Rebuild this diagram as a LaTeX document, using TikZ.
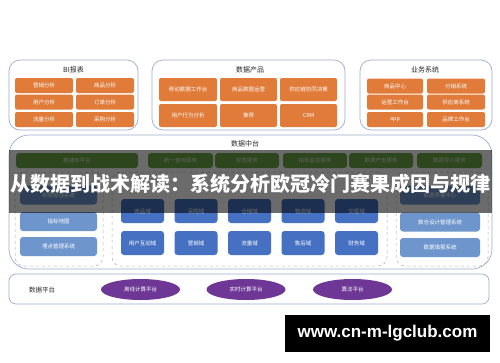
\documentclass[tikz,border=0pt]{standalone}
\usepackage{fontspec}
\setmainfont{Noto Sans CJK SC}
\newfontfamily\urlfont{Liberation Sans}
\usetikzlibrary{shapes.geometric,positioning}
\definecolor{panelline}{HTML}{9AAED0}
\definecolor{orangebox}{HTML}{E07B39}
\definecolor{greenbox}{HTML}{70A848}
\definecolor{domainbox}{HTML}{4671C2}
\definecolor{lightbox}{HTML}{6E96CD}
\definecolor{platpurple}{HTML}{6E3796}
\begin{document}
\begin{tikzpicture}[
    x=1pt, y=-1pt,
    font=\fontsize{5.5}{6.5}\selectfont,
    panel/.style={draw=panelline, line width=0.7pt, fill=white, rounded corners=11pt, inner sep=0pt},
    dashpanel/.style={draw=gray!60, dashed, line width=0.5pt, rounded corners=9pt, inner sep=0pt},
    ptitle/.style={font=\fontsize{7}{8}\selectfont, text=black!85},
    obox/.style={fill=orangebox, text=white, rounded corners=2pt, inner sep=0pt, minimum width=58pt, minimum height=15pt},
    gbox/.style={fill=greenbox, text=white!80!greenbox, rounded corners=3pt, inner sep=0pt, minimum width=64pt, minimum height=15pt},
    dbox/.style={fill=domainbox, text=white, rounded corners=3pt, inner sep=0pt, minimum width=43pt, minimum height=24pt},
    lbox/.style={fill=lightbox, text=white, rounded corners=3pt, inner sep=0pt, minimum width=77pt, minimum height=19pt},
    pill/.style={ellipse, fill=platpurple, text=white, inner sep=0pt, minimum width=79pt, minimum height=21pt}
]
\useasboundingbox[fill=white] (0,0) rectangle (500,362);

% BI报表
\node[panel, minimum width=129pt, minimum height=70pt] (bi) at (73.5,95) {};
\node[ptitle] (bitit) at (73.5,70) {BI报表};
\node[obox] (yx) at (44,85.5) {营销分析};
\node[obox] (sp) at (105,85.5) {商品分析};
\node[obox] (yh) at (44,102) {用户分析};
\node[obox] (dd) at (105,102) {订单分析};
\node[obox] (ll) at (44,119.5) {流量分析};
\node[obox] (cg) at (105,119.5) {采购分析};

% 数据产品
\node[panel, minimum width=193pt, minimum height=70pt] (prod) at (248.5,95) {};
\node[ptitle] (prodtit) at (250,70) {数据产品};
\node[obox, minimum height=23pt] (ydgz) at (188,89.5) {移动数据工作台};
\node[obox, minimum height=23pt, minimum width=57pt] (spyy) at (248.5,89.5) {商品数据运营};
\node[obox, minimum height=23pt, minimum width=57pt] (gyl) at (308.5,89.5) {供应链协同决策};
\node[obox, minimum height=23pt] (yhxw) at (188,115.5) {用户行为分析};
\node[obox, minimum height=23pt, minimum width=57pt] (tj) at (248.5,115.5) {推荐};
\node[obox, minimum height=23pt, minimum width=57pt] (crm) at (308.5,115.5) {CRM};

% 业务系统
\node[panel, minimum width=132pt, minimum height=70pt] (biz) at (426,95) {};
\node[ptitle] (biztit) at (425,70) {业务系统};
\node[obox, minimum width=56pt] (spzx) at (395,86) {商品中心};
\node[obox] (fx) at (456,86) {分销系统};
\node[obox, minimum width=56pt] (yygz) at (395,102) {运营工作台};
\node[obox] (gys) at (456,102) {供应商系统};
\node[obox, minimum width=56pt] (app) at (395,119.5) {app};
\node[obox] (pp) at (456,119.5) {品牌工作台};

% 数据中台
\node[panel, rounded corners=20pt, minimum width=483pt, minimum height=134pt] (mid) at (250.5,202) {};
\node[ptitle] (midtit) at (245,144) {数据中台};
\node[gbox, minimum width=122pt] (bipt) at (77,160.5) {敏捷BI平台};
\node[gbox, minimum width=65pt] (cx) at (180.5,160.5) {统一查询服务};
\node[gbox] (bq) at (247,160.5) {标签服务};
\node[gbox] (zb) at (315,160.5) {指标监控服务};
\node[gbox] (cc) at (381,160.5) {数据产出服务};
\node[gbox, minimum width=65pt] (dr) at (449.5,160.5) {数据导入服务};

\node[dashpanel, minimum width=88pt, minimum height=94pt] (leftp) at (59,219) {};
\node[lbox] (qx) at (58.5,195) {权限管理系统};
\node[lbox] (zbdt) at (58.5,221.5) {指标地图};
\node[lbox] (md) at (58.5,246.5) {埋点管理系统};

\node[dashpanel, minimum width=275pt, minimum height=94pt] (domp) at (249.5,219) {};
\node[dbox] (spy) at (142.5,211) {商品域};
\node[dbox] (cgy) at (196,211) {采购域};
\node[dbox] (ccy) at (249.5,211) {仓储域};
\node[dbox] (wly) at (303,211) {物流域};
\node[dbox] (jyy) at (356.5,211) {交易域};
\node[dbox] (hdy) at (142.5,243) {用户互动域};
\node[dbox] (yxy) at (196,243) {营销域};
\node[dbox] (lly) at (249.5,243) {流量域};
\node[dbox] (shy) at (303,243) {售后域};
\node[dbox] (cwy) at (356.5,243) {财务域};

\node[dashpanel, minimum width=92pt, minimum height=94pt] (rightp) at (442,219) {};
\node[lbox, minimum width=80pt] (zl) at (440,195) {数据质量中心};
\node[lbox, minimum width=80pt] (sc) at (440,222) {数仓设计管理系统};
\node[lbox, minimum width=80pt] (tb) at (440,247.5) {数据填报系统};

% 数据平台
\node[panel, rounded corners=7pt, minimum width=480pt, minimum height=30pt] (plat) at (249,289) {};
\node[ptitle, font=\fontsize{6.5}{7.5}\selectfont] (plattit) at (42,290) {数据平台};
\node[pill] (lx) at (140.5,289.5) {离线计算平台};
\node[pill] (ss) at (246,289.5) {实时计算平台};
\node[pill] (sf) at (352.5,289.5) {算法平台};

% 标题条与水印
\fill[black, opacity=0.58] (9,150) rectangle (492,213);
\node[text=white, font=\fontsize{20}{22}\selectfont\bfseries] (banner) at (250,184) {从数据到战术解读：系统分析欧冠冷门赛果成因与规律};
\node[fill=black, text=white, inner sep=0pt, minimum width=205pt, minimum height=37pt, font=\urlfont\fontsize{17}{19}\selectfont\bfseries] (site) at (387.5,333.5) {www.cn-m-lgclub.com};
\end{tikzpicture}
\end{document}
